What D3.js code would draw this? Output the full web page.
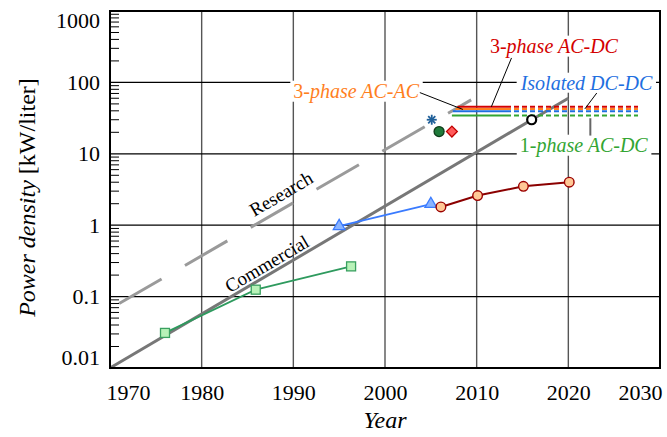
<!DOCTYPE html>
<html><head><meta charset="utf-8">
<script src="https://cdn.jsdelivr.net/npm/d3@7"></script>
<style>
html,body{margin:0;padding:0;background:#fff;}
svg{display:block;}
svg text{font-family:"Liberation Serif", serif;}
</style></head>
<body><svg id="c" width="667" height="437"></svg>
<script>
// ---- data ----
const xTicks = [1970,1980,1990,2000,2010,2020,2030];
const yTicks = [0.01,0.1,1,10,100,1000];
const yTickLabels = ["0.01","0.1","1","10","100","1000"];

const commercialYears = [1970, 2020];
const commercialValues = [0.01, 60];
const researchYears = [1971, 2009.4];
const researchValues = [0.08, 57];

const squareYears = [1976, 1985.9, 1996.3];
const squareValues = [0.031, 0.125, 0.265];
const triangleYears = [1995, 2005];
const triangleValues = [0.97, 1.98];
const circleYears = [2006.1, 2010.1, 2015.1, 2020.1];
const circleValues = [1.8, 2.6, 3.5, 4.0];

const starPoint = [2005.1, 30];
const greenDotPoint = [2005.9, 20.5];
const diamondPoint = [2007.3, 20.5];
const hexPoint = [2016, 30];

const trendNames = ["3-phase AC-DC","3-phase AC-AC","Isolated DC-DC","1-phase AC-DC"];
const trendColors = ["#d40000","#ff7f1e","#1f6fe0","#33a533"];
const trendValues = [45.5, 42.3, 39.3, 34.3];
const trendStart = [2007.9, 2007.7, 2007.4, 2007.3];
const trendSolidEnd = [2013.2, 2013.2, 2013.2, 2013.2];
const trendDashEnd = [2027.6, 2027.6, 2027.6, 2027.6];

// ---- layout ----
const svg = d3.select("#c");
const x = d3.scaleLinear([1970,2030],[110,660]);
const y = d3.scaleLog([0.01,1000],[368,11]);
const FONT = "Liberation Serif";

// grid
const g = svg.append("g");
g.selectAll(".vg").data(xTicks.slice(1,-1)).join("line")
  .attr("x1",d=>x(d)).attr("x2",d=>x(d)).attr("y1",y(1000)).attr("y2",y(0.01))
  .attr("stroke","#555").attr("stroke-width",1.4);
g.selectAll(".hg").data(yTicks.slice(1,-1)).join("line")
  .attr("x1",x(1970)).attr("x2",x(2030)).attr("y1",d=>y(d)).attr("y2",d=>y(d))
  .attr("stroke","#000").attr("stroke-width",1.2);

// minor ticks on left axis
const minor = [];
for (let k=-2;k<3;k++) for (let m=2;m<10;m++) minor.push(m*Math.pow(10,k));
g.selectAll(".mt").data(minor).join("line")
  .attr("x1",x(1970)).attr("x2",x(1970)+9).attr("y1",d=>y(d)).attr("y2",d=>y(d))
  .attr("stroke","#000").attr("stroke-width",1);

// text helper with white background
function label(parent, px, py, parts, color, size, bg, rot) {
  const gg = parent.append("g").attr("transform",`translate(${px},${py})` + (rot!==undefined?` rotate(${rot})`:""));
  const bgRect = gg.append("rect").attr("fill","#fff");
  const t = gg.append("text").attr("font-size",size).attr("fill",color)
    .attr("font-family",FONT).style("font-family",FONT);
  parts.forEach(p=>t.append("tspan").attr("font-style",p[1]?"italic":"normal").text(p[0]));
  if (rot !== undefined) t.attr("text-anchor","middle").attr("dy","0.35em");
  const bb = t.node().getBBox();
  if (bg) bgRect.attr("x",bb.x-3).attr("y",bb.y+1).attr("width",bb.width+6).attr("height",bb.height-2);
  else bgRect.remove();
  return gg;
}

// annotation backgrounds + texts
const ann = svg.append("g");
label(ann, x(2011.45), y(261), [["3",0],["-phase AC-DC",1]], trendColors[0], 20, true);
label(ann, x(2014.8), y(79), [["Isolated DC-DC",1]], trendColors[2], 20, true);
label(ann, x(1990), y(61), [["3",0],["-phase AC-AC",1]], trendColors[1], 20, true);
label(ann, x(2014.7), y(10.7), [["1",0],["-phase AC-DC",1]], trendColors[3], 20, true);

// trend lines
const line = d3.line().x(d=>x(d[0])).y(d=>y(d[1]));
const angle = -Math.atan2(y(commercialValues[0])-y(commercialValues[1]), x(commercialYears[1])-x(commercialYears[0]))*180/Math.PI;
svg.append("path").datum(researchYears.map((d,i)=>[d,researchValues[i]]))
  .attr("d",line).attr("stroke","#9a9a9a").attr("stroke-width",3).attr("fill","none")
  .attr("stroke-dasharray","49,27");
svg.append("path").datum(commercialYears.map((d,i)=>[d,commercialValues[i]]))
  .attr("d",line).attr("stroke","#777").attr("stroke-width",3).attr("fill","none");

label(svg, x(1988.65), y(2.76), [["Research",0]], "#000", 19, false, angle);
label(svg, x(1987.1), y(0.289), [["Commercial",0]], "#000", 19, false, angle);

// colored horizontal trend lines
trendValues.forEach((v,i)=>{
  svg.append("line").attr("x1",x(trendStart[i])).attr("x2",x(trendSolidEnd[i]))
    .attr("y1",y(v)).attr("y2",y(v)).attr("stroke",trendColors[i]).attr("stroke-width",2);
  svg.append("line").attr("x1",x(trendSolidEnd[i])).attr("x2",x(trendDashEnd[i]))
    .attr("y1",y(v)).attr("y2",y(v)).attr("stroke",trendColors[i]).attr("stroke-width",2)
    .attr("stroke-dasharray","5,3");
});

// leader lines
const leaders = [
  [[2013.8,220],[2011.6,45.5],"#000",1],
  [[2003.8,72],[2008.5,41.8],"#000",1],
  [[2023.1,71],[2021.8,42.5],"#000",1],
  [[2022.4,31.5],[2022.4,18],"#666",2]
];
leaders.forEach(l=>svg.append("path").attr("d",line([l[0],l[1]])).attr("stroke",l[2]).attr("stroke-width",l[3]).attr("fill","none"));

// series: green squares
svg.append("path").datum(squareYears.map((d,i)=>[d,squareValues[i]])).attr("d",line)
  .attr("stroke","#2e9a5e").attr("stroke-width",1.8).attr("fill","none");
svg.selectAll(".sq").data(squareYears.map((d,i)=>[d,squareValues[i]])).join("rect")
  .attr("x",d=>x(d[0])-4.5).attr("y",d=>y(d[1])-4.5).attr("width",9).attr("height",9)
  .attr("fill","#b8f2b8").attr("stroke","#3aa060").attr("stroke-width",1.3);

// blue triangles
svg.append("path").datum(triangleYears.map((d,i)=>[d,triangleValues[i]])).attr("d",line)
  .attr("stroke","#3a7bff").attr("stroke-width",1.8).attr("fill","none");
svg.selectAll(".tri").data(triangleYears.map((d,i)=>[d,triangleValues[i]])).join("path")
  .attr("d",d3.symbol(d3.symbolTriangle,60))
  .attr("transform",d=>`translate(${x(d[0])},${y(d[1])})`)
  .attr("fill","#8ab4ff").attr("stroke","#3a7bff").attr("stroke-width",1.3);

// dark red circles
svg.append("path").datum(circleYears.map((d,i)=>[d,circleValues[i]])).attr("d",line)
  .attr("stroke","#8b0000").attr("stroke-width",2).attr("fill","none");
svg.selectAll(".ci").data(circleYears.map((d,i)=>[d,circleValues[i]])).join("circle")
  .attr("cx",d=>x(d[0])).attr("cy",d=>y(d[1])).attr("r",4.8)
  .attr("fill","#ffc896").attr("stroke","#9b0000").attr("stroke-width",1.4);

// single markers
const sx = x(starPoint[0]), sy = y(starPoint[1]);
for (let a=0;a<4;a++){
  const ang = a*Math.PI/4, r=5;
  svg.append("line").attr("x1",sx-r*Math.cos(ang)).attr("y1",sy-r*Math.sin(ang))
    .attr("x2",sx+r*Math.cos(ang)).attr("y2",sy+r*Math.sin(ang))
    .attr("stroke","#1f5f99").attr("stroke-width",1.8);
}
svg.append("circle").attr("cx",x(greenDotPoint[0])).attr("cy",y(greenDotPoint[1])).attr("r",5)
  .attr("fill","#1f7a3a").attr("stroke","#0e3d1a").attr("stroke-width",1.3);
svg.append("path").attr("d",d3.symbol(d3.symbolDiamond2,75))
  .attr("transform",`translate(${x(diamondPoint[0])},${y(diamondPoint[1])})`)
  .attr("fill","#ff5a5a").attr("stroke","#c00000").attr("stroke-width",1.3);
svg.append("circle").attr("cx",x(hexPoint[0])).attr("cy",y(hexPoint[1])).attr("r",4.5)
  .attr("fill","#fff").attr("stroke","#000").attr("stroke-width",2.2);

// frame
svg.append("rect").attr("x",x(1970)).attr("y",y(1000)).attr("width",x(2030)-x(1970)).attr("height",y(0.01)-y(1000))
  .attr("fill","none").attr("stroke","#000").attr("stroke-width",2);

// axes labels
const xa = svg.append("g").attr("transform",`translate(0,${y(0.01)})`)
  .call(d3.axisBottom(x).tickValues(xTicks).tickFormat(d3.format("d")).tickSize(0).tickPadding(16));
xa.attr("font-family",FONT).attr("font-size",22);
xa.select(".domain").remove();
xa.selectAll("text").attr("fill","#000").style("font-family",FONT).style("font-size","22px")
  .attr("dx",d=> d===1970?18:(d===2030?-20:0));

const ya = svg.append("g").attr("transform",`translate(${x(1970)},0)`)
  .call(d3.axisLeft(y).tickValues(yTicks).tickFormat((d,i)=>yTickLabels[i]).tickSize(0).tickPadding(10));
ya.attr("font-family",FONT).attr("font-size",22);
ya.select(".domain").remove();
ya.selectAll("text").attr("fill","#000").style("font-family",FONT).style("font-size","22px")
  .attr("dy",d=> d===1000?"0.75em":(d===0.01?"-0.15em":"0.32em"));

// axis titles
svg.append("text").attr("x",x(2000)).attr("y",428).attr("text-anchor","middle")
  .attr("font-size",24).attr("font-style","italic").attr("font-family",FONT).text("Year");
const yt = svg.append("text").attr("transform",`translate(35,${(y(1000)+y(0.01))/2+8}) rotate(-90)`)
  .attr("text-anchor","middle").attr("font-size",24).attr("font-family",FONT);
yt.append("tspan").attr("font-style","italic").text("Power density ");
yt.append("tspan").text("[kW/liter]");
</script></body></html>
